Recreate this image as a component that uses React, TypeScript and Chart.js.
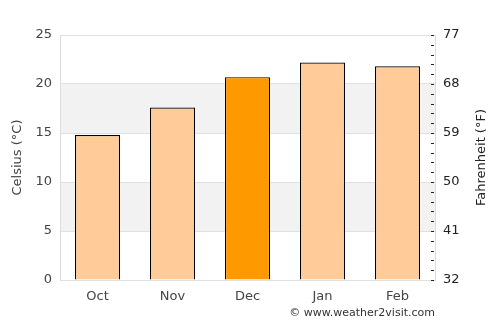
import React, { useEffect, useRef } from "react";
import { Chart, registerables } from "chart.js";

Chart.register(...registerables);

const months = ["Oct", "Nov", "Dec", "Jan", "Feb"];
const celsius = [14.8, 17.6, 20.7, 22.2, 21.8];
const barColors = ["#ffcc99", "#ffcc99", "#ff9900", "#ffcc99", "#ffcc99"];
const bands: [number, number][] = [[5, 10], [15, 20]];
const FONT = "DejaVu Sans";

const bgPlugin = {
  id: "bands",
  beforeDraw(chart: any) {
    const { ctx, chartArea } = chart;
    const y = chart.scales.y;
    ctx.save();
    ctx.fillStyle = "#f2f2f2";
    bands.forEach(([a, b]) => {
      const y1 = y.getPixelForValue(b);
      const y2 = y.getPixelForValue(a);
      ctx.fillRect(chartArea.left, y1, chartArea.right - chartArea.left, y2 - y1);
    });
    ctx.restore();
  },
  afterDraw(chart: any) {
    const { ctx, chartArea } = chart;
    const y = chart.scales.y;
    ctx.save();
    ctx.strokeStyle = "#222";
    ctx.lineWidth = 1;
    for (let v = 0; v <= 25; v++) {
      const py = Math.round(y.getPixelForValue(v)) + 0.5;
      ctx.beginPath();
      ctx.moveTo(chartArea.right - 4, py);
      ctx.lineTo(chartArea.right - 1, py);
      ctx.stroke();
    }
    ctx.fillStyle = "#333";
    ctx.font = `11px "${FONT}"`;
    ctx.textAlign = "right";
    ctx.textBaseline = "middle";
    ctx.fillText("© www.weather2visit.com", chartArea.right, 313);
    ctx.fillStyle = "#222";
    ctx.font = `13px "${FONT}"`;
    ctx.textAlign = "center";
    ctx.translate(482, (chartArea.top + chartArea.bottom) / 2);
    ctx.rotate(-Math.PI / 2);
    ctx.fillText("Fahrenheit (°F)", 0, 0);
    ctx.restore();
  },
};

export default function App() {
  const ref = useRef<HTMLCanvasElement>(null);
  useEffect(() => {
    document.body.style.margin = "0";
    const chart = new Chart(ref.current!, {
      type: "bar",
      data: {
        labels: months,
        datasets: [
          {
            data: celsius,
            backgroundColor: barColors,
            borderColor: "#000",
            borderWidth: 1.2,
            barPercentage: 0.6,
            categoryPercentage: 1,
            yAxisID: "y",
          },
        ],
      },
      options: {
        animation: false,
        responsive: false,
        layout: { padding: { top: 35, left: 0, right: 0, bottom: 0 } },
        plugins: { legend: { display: false }, tooltip: { enabled: false } },
        scales: {
          x: {
            grid: { display: false },
            border: { display: false },
            ticks: { color: "#444", font: { family: FONT, size: 13 }, padding: 1 },
            afterFit(s: any) { s.height = 45; },
          },
          y: {
            position: "left",
            min: 0,
            max: 25,
            ticks: { stepSize: 5, color: "#444", font: { family: FONT, size: 13 }, padding: 8 },
            grid: { color: "#e0e0e0", drawTicks: false },
            border: { display: true, color: "#dddddd" },
            title: { display: true, text: "Celsius (°C)", color: "#444", font: { family: FONT, size: 13 }, padding: 10 },
            afterFit(s: any) { s.width = 60; },
          },
          y2: {
            position: "right",
            min: 0,
            max: 25,
            ticks: {
              stepSize: 5,
              color: "#222",
              font: { family: FONT, size: 13 },
              padding: 8,
              callback: (v: any) => String(Math.round(Number(v) * 1.8 + 32)),
            },
            grid: { drawOnChartArea: false, drawTicks: false },
            border: { display: true, color: "#dddddd" },
            afterFit(s: any) { s.width = 65; },
          },
        },
      },
      plugins: [bgPlugin],
    });
    return () => chart.destroy();
  }, []);
  return (
    <div style={{ width: 500, height: 325 }}>
      <canvas ref={ref} width={500} height={325} />
    </div>
  );
}
